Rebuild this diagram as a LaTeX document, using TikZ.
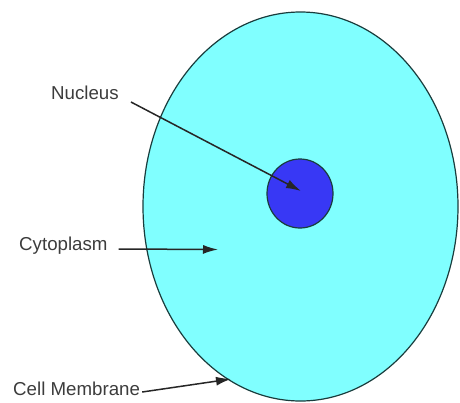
\documentclass[tikz,border=0pt]{standalone}
\usepackage{fontspec}
\setmainfont{Liberation Sans}
\usetikzlibrary{arrows.meta,shapes.geometric}
\definecolor{cyt}{RGB}{128,255,255}
\definecolor{nucb}{RGB}{56,56,245}
\definecolor{edge}{RGB}{25,60,60}
\definecolor{txt}{RGB}{60,60,60}
\begin{document}
\begin{tikzpicture}[x=1pt,y=-1pt,
  lbl/.style={anchor=west,inner sep=0pt,text=txt,font=\fontsize{18.7}{20}\selectfont},
  arr/.style={draw=black!85,line width=1.5pt,-{Latex[length=15pt,width=9pt]}}]
\useasboundingbox (0,0) rectangle (460,402);
\node[draw=edge,fill=cyt,line width=1.2pt,ellipse,minimum width=315pt,minimum height=389pt,inner sep=0pt] (cell) at (300.5,206.5) {};
\node[draw=edge,fill=nucb,line width=1.2pt,ellipse,minimum width=66pt,minimum height=69pt,inner sep=0pt] (nuc) at (300,193.5) {};
\node[lbl] (nl) at (51,93) {Nucleus};
\node[lbl] (cl) at (19,246) {Cytoplasm};
\node[lbl] (ml) at (13,389) {Cell Membrane};
\coordinate (ntip) at (301,191);
\coordinate (ctip) at (218,249.5);
\coordinate (mtip) at (231,379);
\draw[arr] ([xshift=12pt,yshift=-9pt]nl.east) -- (ntip);
\draw[arr] ([xshift=11pt,yshift=-3pt]cl.east) -- (ctip);
\draw[arr] ([xshift=2pt,yshift=-3pt]ml.east) -- (mtip);
\end{tikzpicture}
\end{document}
